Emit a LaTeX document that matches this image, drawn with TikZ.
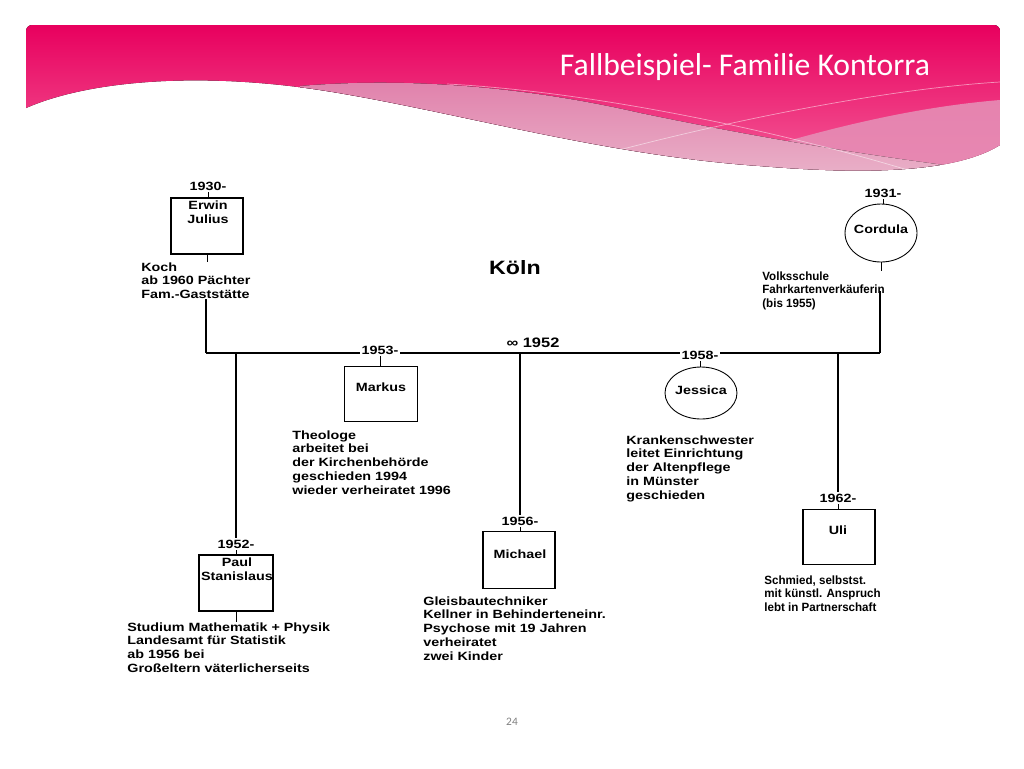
\documentclass[tikz,border=0pt]{standalone}
\usepackage{fontspec}
\setmainfont{Liberation Sans}
\newfontfamily\scanfont[FakeStretch=1.2]{Liberation Sans}
\newfontfamily\scannarrow[FakeStretch=0.97]{Liberation Sans}
\newfontfamily\slidefont{Carlito}
\usetikzlibrary{shapes.geometric,positioning}

\definecolor{slidepink}{HTML}{E8005E}
\definecolor{slidepinklow}{HTML}{F4619B}
\definecolor{wavepink}{HTML}{E07FAA}
\definecolor{wavepinklow}{HTML}{EAB5CB}
\definecolor{wavepinkright}{HTML}{E68DB5}

\tikzset{
  person/.style={draw, line width=0.6pt, minimum width=1.44cm, minimum height=1.12cm, inner sep=0pt},
  personf/.style={draw, ellipse, line width=0.5pt, minimum width=1.44cm, minimum height=1.08cm, inner sep=0pt},
  pname/.style={font=\scanfont\bfseries\fontsize{6.8}{7.9}\selectfont, align=center, inner sep=0pt},
  year/.style={font=\scanfont\bfseries\fontsize{6.8}{7.9}\selectfont, inner sep=1pt, fill=white},
  info/.style={font=\scanfont\bfseries\fontsize{6.8}{7.94}\selectfont, align=left, inner sep=0pt, anchor=north west},
  infonarrow/.style={info, font=\scannarrow\bfseries\fontsize{6.8}{7.94}\selectfont},
  kin/.style={line width=1.1pt},
  tick/.style={line width=0.5pt},
}

\begin{document}
\begin{tikzpicture}[x=0.02cm, y=-0.02cm]
 \useasboundingbox (0,0) rectangle (1024,768);

 % slide header
 \begin{scope}
  \clip (26,108) -- (26,31) arc[start angle=180, end angle=270, radius=6] -- (994,25)
   arc[start angle=270, end angle=360, radius=6] -- (1000,145)
   .. controls (960,170) and (880,176) .. (760,166)
   .. controls (600,155) and (450,110) .. (320,90)
   .. controls (200,72) and (90,80) .. (26,108) -- cycle;
  \fill[top color=slidepink, bottom color=slidepinklow] (26,25) rectangle (1000,180);
  \fill[wavepinkright, opacity=0.9] (660,180) .. controls (770,145) and (880,110) .. (1000,100)
   -- (1000,185) -- (660,185) -- cycle;
  \fill[top color=wavepink, bottom color=wavepinklow] (300,86) .. controls (420,76) and (540,90) .. (640,113)
   .. controls (760,138) and (880,158) .. (1000,172) -- (1000,185) -- (300,185) -- cycle;
  \draw[white, opacity=0.5, line width=0.4pt] (447,84) .. controls (600,92) and (800,135) .. (940,180);
  \draw[white, opacity=0.5, line width=0.4pt] (600,155) .. controls (750,115) and (900,88) .. (1000,82);
 \end{scope}
 \node[font=\slidefont\fontsize{18}{21}\selectfont, text=white] (title) at (745,67) {Fallbeispiel- Familie Kontorra};
 \node[font=\slidefont\fontsize{6.5}{8}\selectfont, text=gray] (page) at (512,722) {24};

 % marriage line
 \coordinate (mleft) at (206,353);
 \coordinate (mright) at (880,353);
 \draw[kin] (mleft) -- (mright);
 \node[font=\scanfont\bfseries\fontsize{7.8}{9}\selectfont, inner sep=0pt] (married) at (533,343) {∞ 1952};
 \node[font=\scanfont\bfseries\fontsize{11}{12}\selectfont, inner sep=0pt] (koeln) at (515,268) {Köln};

 % parents
 \node[year] (y1930) at (208,186) {1930-};
 \node[person] (erwin) at (207,226) {};
 \node[pname] (erwinname) at (208,212) {Erwin\\Julius};
 \node[info] (erwininfo) at (141,262) {Koch\\ab 1960 Pächter\\Fam.-Gaststätte};
 \draw[tick] (y1930) -- (y1930 |- erwin.north);
 \draw[tick] (erwin.south) -- (erwin.south |- erwininfo.north);
 \draw[kin] (erwininfo.south -| mleft) -- (mleft);

 \node[year] (y1931) at (883,193) {1931-};
 \node[personf, minimum height=1.16cm] (cordula) at (881,233) {};
 \node[pname] (cordulaname) at (881,229) {Cordula};
 \node[infonarrow] (cordinfo) at (762,271) {Volksschule\\Fahrkartenverkäuferin\\(bis 1955)};
 \draw[tick] (y1931) -- (y1931 |- cordula.north);
 \draw[tick] (cordula.south) -- (cordula.south |- cordinfo.north);
 \draw[kin] (mright) -- (mright |- cordinfo.east);

 % children
 \node[year] (y1952) at (236,544) {1952-};
 \node[person, minimum width=1.48cm] (paul) at (236,583) {};
 \node[pname] (paulname) at (237,569) {Paul\\Stanislaus};
 \node[info] (paulinfo) at (127,622) {Studium Mathematik + Physik\\Landesamt für Statistik\\ab 1956 bei\\Großeltern väterlicherseits};
 \draw[kin] (mleft -| y1952) -- (y1952);
 \draw[tick] (y1952) -- (y1952 |- paul.north);
 \draw[tick] (paul.south) -- (paul.south |- paulinfo.north);

 \node[year] (y1953) at (380,350) {1953-};
 \node[person, minimum width=1.46cm, minimum height=1.1cm] (markus) at (381,394) {};
 \node[pname] (markusname) at (381,387) {Markus};
 \node[info] (markusinfo) at (292,430) {Theologe\\arbeitet bei\\der Kirchenbehörde\\geschieden 1994\\wieder verheiratet 1996};
 \draw[tick] (y1953) -- (y1953 |- markus.north);

 \node[year] (y1956) at (520,521) {1956-};
 \node[person, minimum height=1.14cm] (michael) at (519,560) {};
 \node[pname] (michaelname) at (520,554) {Michael};
 \node[info] (michaelinfo) at (423,596) {Gleisbautechniker\\Kellner in Behinderteneinr.\\Psychose mit 19 Jahren\\verheiratet\\zwei Kinder};
 \draw[kin] (mleft -| y1956) -- (y1956);
 \draw[tick] (y1956) -- (y1956 |- michael.north);

 \node[year] (y1958) at (700,355) {1958-};
 \node[personf, minimum height=1.04cm] (jessica) at (701,393) {};
 \node[pname] (jessicaname) at (701,390) {Jessica};
 \node[info] (jessicainfo) at (626,435) {Krankenschwester\\leitet Einrichtung\\der Altenpflege\\in Münster\\geschieden};
 \draw[tick] (y1958) -- (y1958 |- jessica.north);

 \node[year] (y1962) at (838,498) {1962-};
 \node[person, minimum height=1.1cm] (uli) at (839,537) {};
 \node[pname] (uliname) at (838,530) {Uli};
 \node[infonarrow] (uliinfo) at (764,575) {Schmied, selbstst.\\mit künstl. Anspruch\\lebt in Partnerschaft};
 \draw[kin] (mleft -| y1962) -- (y1962);
 \draw[tick] (y1962) -- (y1962 |- uli.north);
\end{tikzpicture}
\end{document}
